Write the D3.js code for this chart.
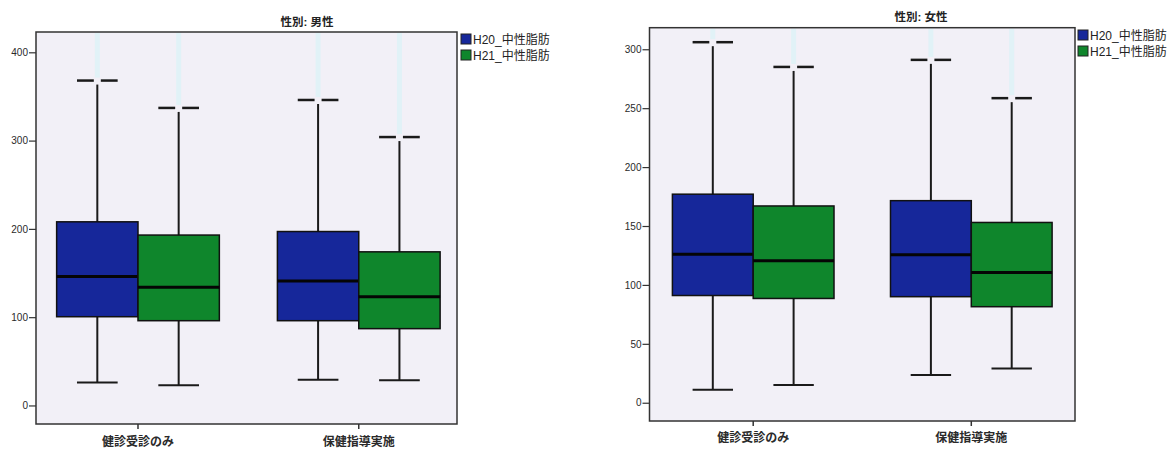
<!DOCTYPE html>
<html>
<head>
<meta charset="utf-8">
<script src="https://cdn.jsdelivr.net/npm/d3@7"></script>
<style>
  html, body { margin: 0; padding: 0; background: #fff; }
  svg { display: block; }
  text { font-family: "Liberation Sans", Arial, "Noto Sans CJK JP", sans-serif; }
</style>
</head>
<body>
<svg id="chart" width="1168" height="450"></svg>
<script>
// Groups on the x axis and the two measurement series
const categories = ["健診受診のみ", "保健指導実施"];
const series = ["H20_中性脂肪", "H21_中性脂肪"];
const seriesColors = ["#16279a", "#0f862c"];

// Box statistics per category: [lower whisker, Q1, median, Q3, upper whisker]
const maleH20 = [[26, 100.5, 146, 208, 368], [29, 96, 141, 197, 346]];
const maleH21 = [[23, 96, 134, 193, 337], [28.5, 87, 123, 174, 304]];
const femaleH20 = [[11, 91, 126, 177, 306], [23.5, 90, 125.5, 171.5, 291]];
const femaleH21 = [[15, 88.5, 120.5, 167, 285], [29, 81.5, 110.5, 153, 258.5]];

// Y axis tick labels
const maleTicks = [0, 100, 200, 300, 400];
const femaleTicks = [0, 50, 100, 150, 200, 250, 300];

const panels = [
  {
    title: "性別: 男性", data: [maleH20, maleH21], ticks: maleTicks,
    frame: { x0: 36, x1: 457, y0: 32, y1: 424 }, yDomain: [-21, 423],
    band: { inner: 0.263, outer: 0.085, align: 0.55 },
    titleX: 307, titleY: 26, legendX: 461, legendY: 34, labelPad: 8
  },
  {
    title: "性別: 女性", data: [femaleH20, femaleH21], ticks: femaleTicks,
    frame: { x0: 649.5, x1: 1075, y0: 27.7, y1: 421 }, yDomain: [-15.5, 318.3],
    band: { inner: 0.259, outer: 0.105, align: 0.5 },
    titleX: 921, titleY: 21, legendX: 1078, legendY: 30, labelPad: 7
  }
];

const svg = d3.select("#chart");
svg.append("rect").attr("width", 1168).attr("height", 450).attr("fill", "#fff");

panels.forEach(p => {
  const f = p.frame;
  const g = svg.append("g");

  const y = d3.scaleLinear().domain(p.yDomain).range([f.y1, f.y0]);
  const x = d3.scaleBand().domain(categories).range([f.x0, f.x1])
    .paddingInner(p.band.inner).paddingOuter(p.band.outer).align(p.band.align);
  const xs = d3.scaleBand().domain(series).range([0, x.bandwidth()]).padding(0);

  // plot area
  g.append("rect")
    .attr("x", f.x0).attr("y", f.y0)
    .attr("width", f.x1 - f.x0).attr("height", f.y1 - f.y0)
    .attr("fill", "#f2f0f7");

  // faint cyan streaks above the upper whiskers
  series.forEach((s, si) => {
    categories.forEach((c, ci) => {
      const d = p.data[si][ci];
      const cx = x(c) + xs(s) + xs.bandwidth() / 2;
      g.append("rect")
        .attr("x", cx - 2.5).attr("y", f.y0 + 1)
        .attr("width", 5).attr("height", Math.max(0, y(d[4]) - f.y0 - 4))
        .attr("fill", "#d6f4f6").attr("opacity", 0.6);
    });
  });

  // boxes
  series.forEach((s, si) => {
    categories.forEach((c, ci) => {
      const d = p.data[si][ci];
      const bx = x(c) + xs(s);
      const bw = xs.bandwidth();
      const cx = bx + bw / 2;
      const capHalf = bw / 4;
      const bg = g.append("g");

      // upper whisker (ends just short of its cap)
      bg.append("line")
        .attr("x1", cx).attr("x2", cx)
        .attr("y1", y(d[3])).attr("y2", y(d[4]) + 4)
        .attr("stroke", "#1a1a1a").attr("stroke-width", 2);
      // upper cap, split around the whisker
      [[cx - capHalf, cx - 3.5], [cx + 3.5, cx + capHalf]].forEach(([a, b]) => {
        bg.append("line")
          .attr("x1", a).attr("x2", b)
          .attr("y1", y(d[4])).attr("y2", y(d[4]))
          .attr("stroke", "#1a1a1a").attr("stroke-width", 2.5);
      });
      // lower whisker and cap
      bg.append("line")
        .attr("x1", cx).attr("x2", cx)
        .attr("y1", y(d[1])).attr("y2", y(d[0]))
        .attr("stroke", "#1a1a1a").attr("stroke-width", 2);
      bg.append("line")
        .attr("x1", cx - capHalf).attr("x2", cx + capHalf)
        .attr("y1", y(d[0])).attr("y2", y(d[0]))
        .attr("stroke", "#1a1a1a").attr("stroke-width", 2);
      // box
      bg.append("rect")
        .attr("x", bx).attr("y", y(d[3]))
        .attr("width", bw).attr("height", y(d[1]) - y(d[3]))
        .attr("fill", seriesColors[si])
        .attr("stroke", "#111").attr("stroke-width", 1.5);
      // median
      bg.append("line")
        .attr("x1", bx).attr("x2", bx + bw)
        .attr("y1", y(d[2])).attr("y2", y(d[2]))
        .attr("stroke", "#050505").attr("stroke-width", 3);
    });
  });

  // frame
  g.append("rect")
    .attr("x", f.x0).attr("y", f.y0)
    .attr("width", f.x1 - f.x0).attr("height", f.y1 - f.y0)
    .attr("fill", "none").attr("stroke", "#333").attr("stroke-width", 1.5);

  // y axis
  const ya = g.append("g").attr("transform", `translate(${f.x0},0)`)
    .call(d3.axisLeft(y).tickValues(p.ticks).tickSize(7).tickSizeOuter(0).tickPadding(1));
  ya.select(".domain").remove();
  ya.selectAll("line").attr("stroke", "#333").attr("stroke-width", 1.2);
  ya.selectAll("text").attr("font-size", 10).attr("fill", "#2a2a2a");

  // x axis
  const xa = g.append("g").attr("transform", `translate(0,${f.y1})`)
    .call(d3.axisBottom(x).tickSize(5).tickSizeOuter(0).tickPadding(p.labelPad));
  xa.select(".domain").remove();
  xa.selectAll("line").attr("stroke", "#333").attr("stroke-width", 1.5);
  xa.selectAll("text").attr("font-size", 12).attr("font-weight", "bold").attr("fill", "#2a2a2a");

  // title
  g.append("text")
    .attr("x", p.titleX).attr("y", p.titleY)
    .attr("text-anchor", "middle").attr("font-size", 11.5).attr("font-weight", "bold")
    .attr("fill", "#222").text(p.title);

  // legend
  series.forEach((s, si) => {
    const ly = p.legendY + si * 16;
    g.append("rect")
      .attr("x", p.legendX).attr("y", ly)
      .attr("width", 10).attr("height", 10)
      .attr("fill", seriesColors[si]).attr("stroke", "#222").attr("stroke-width", 1);
    g.append("text")
      .attr("x", p.legendX + 12).attr("y", ly + 9.5)
      .attr("font-size", 12).attr("fill", "#222").text(s);
  });
});
</script>
</body>
</html>
